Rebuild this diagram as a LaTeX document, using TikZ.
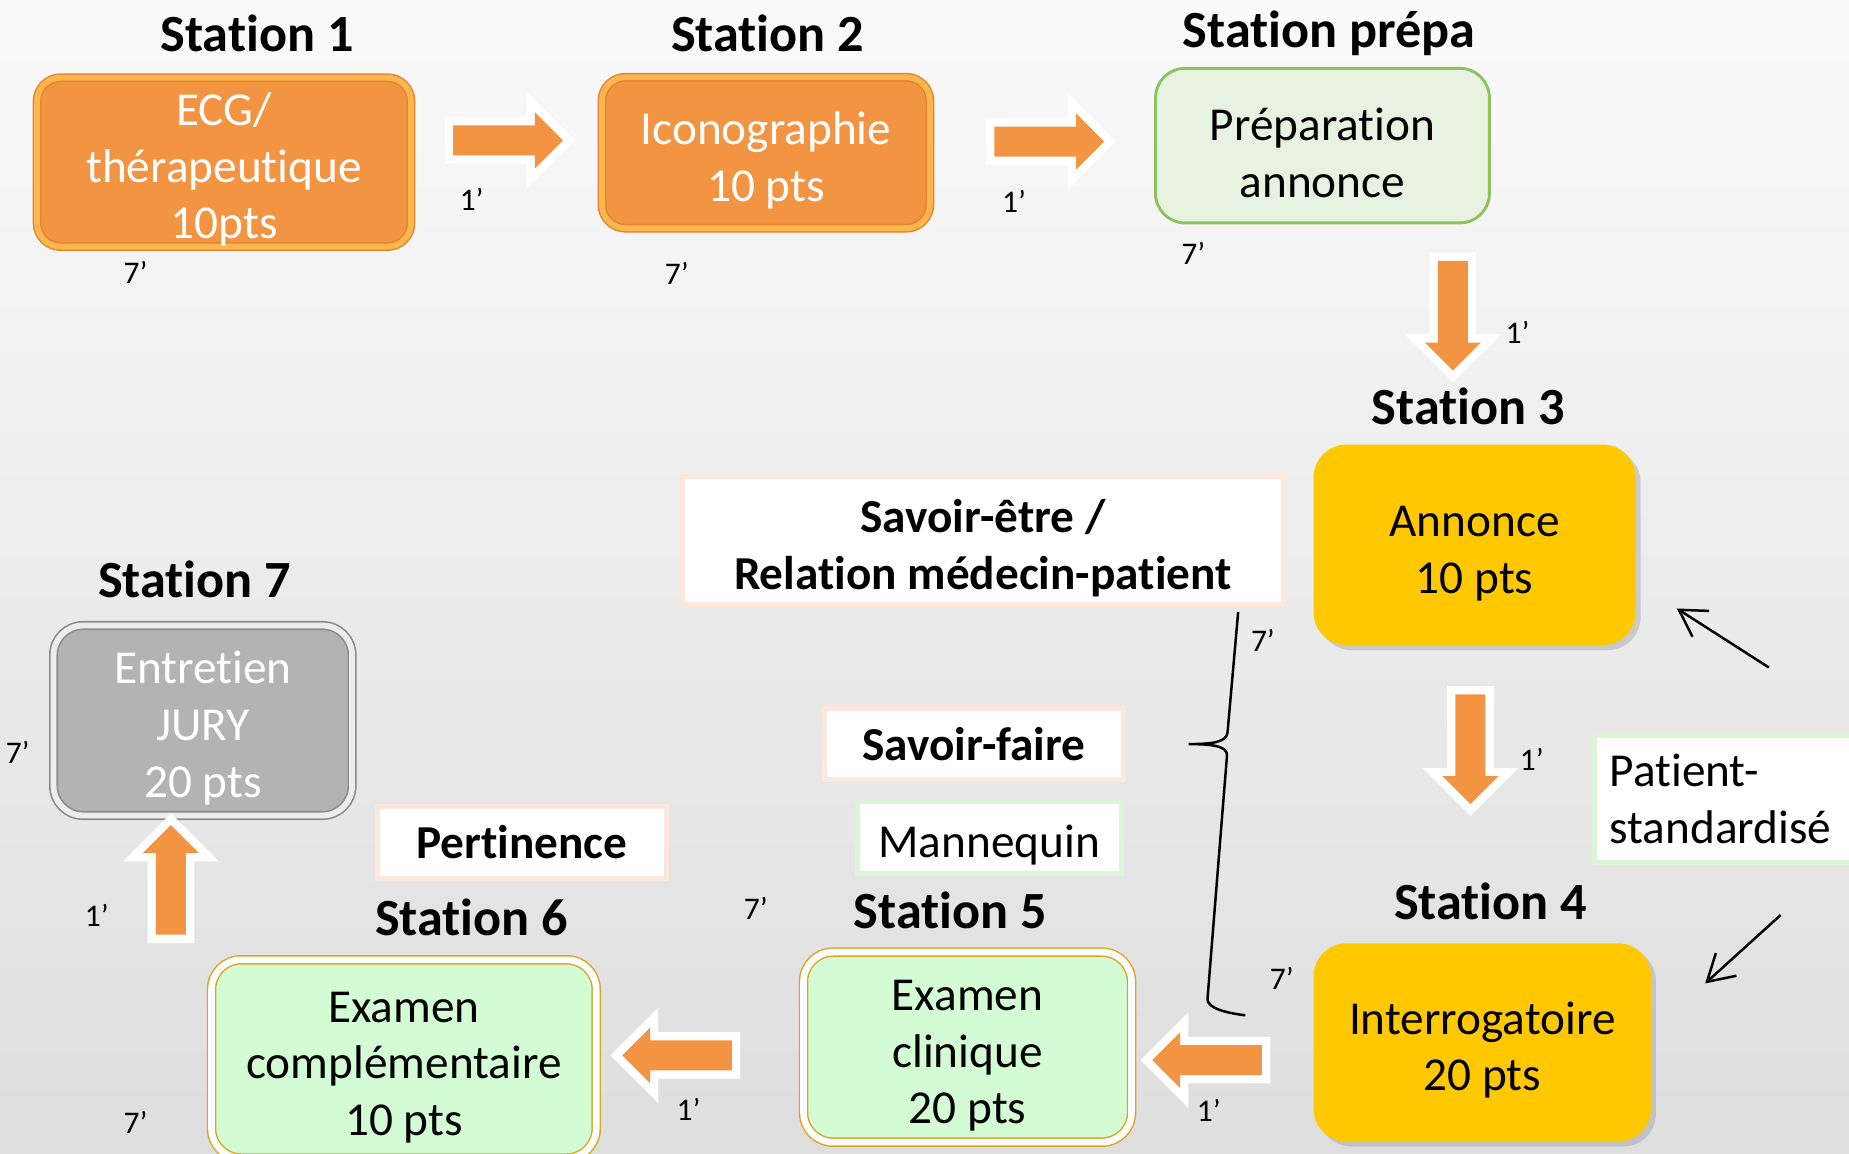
\documentclass[tikz,border=0pt]{standalone}
\usepackage{fontspec}
\setmainfont{Carlito}[Ligatures=NoCommon]
\usetikzlibrary{shapes.arrows,shadows,arrows.meta}

\definecolor{orangefill}{HTML}{F29441}
\definecolor{orangering}{HTML}{FFB64E}
\definecolor{orangeedge}{HTML}{E0852C}
\definecolor{goldfill}{HTML}{FFC800}
\definecolor{prepafill}{HTML}{E8F2E0}
\definecolor{prepaedge}{HTML}{8CC35E}
\definecolor{mintfill}{HTML}{D3FCD5}
\definecolor{mintedge}{HTML}{D9A521}
\definecolor{grayfill}{HTML}{B3B3B3}
\definecolor{grayedge}{HTML}{8C8C8C}
\definecolor{grayring}{HTML}{EDEDED}
\definecolor{peachedge}{HTML}{FDE9DB}
\definecolor{greenedge}{HTML}{D9F7D6}
\definecolor{bgtop}{HTML}{FAFAFA}
\definecolor{bgbottom}{HTML}{DEDEDE}

\newcommand{\boxfont}{\fontsize{11.4}{13.7}\selectfont}
\newcommand{\titlefont}{\fontsize{12.6}{15}\selectfont\bfseries}
\newcommand{\minfont}{\fontsize{7.6}{9}\selectfont}
\newcommand{\lift}{\rule{0pt}{11.5pt}}

\tikzset{
  lowertext/.style={execute at begin node={\lift}},
  station/.style={rounded corners=0.2cm, align=center, font=\boxfont, inner sep=0pt},
  orangebox/.style={station, fill=orangefill, draw=orangeedge, double=orangering,
    double distance=1.4pt, line width=0.35pt, text=white},
  goldbox/.style={station, rounded corners=0.28cm, fill=goldfill,
    drop shadow={shadow xshift=1.2pt, shadow yshift=-1.2pt, opacity=0.3}},
  mintbox/.style={station, rounded corners=0.25cm, fill=mintfill, draw=mintedge,
    double=white, double distance=1.6pt, line width=0.35pt},
  graybox/.style={station, rounded corners=0.25cm, fill=grayfill, draw=grayedge,
    double=grayring, double distance=1.4pt, line width=0.4pt, text=white},
  prepabox/.style={station, rounded corners=0.25cm, fill=prepafill, draw=prepaedge, line width=0.7pt},
  skillbox/.style={fill=white, draw=peachedge, line width=1.2pt, align=center,
    font=\boxfont\bfseries, inner sep=0pt},
  toolbox/.style={fill=white, draw=greenedge, line width=1.2pt, font=\boxfont, inner sep=0pt},
  title/.style={font=\titlefont},
  minutes/.style={font=\minfont, inner sep=0pt},
  flow/.style={single arrow, single arrow head extend=0.11cm, inner sep=0.12cm,
    minimum height=0.93cm, fill=orangefill, preaction={draw=white, line width=4pt}},
  hint/.style={-{Straight Barb[length=2.2mm,width=2.6mm]}, line width=0.6pt},
  brace/.style={line width=0.6pt},
}

\begin{document}
\begin{tikzpicture}[x=0.01cm,y=-0.01cm]
\useasboundingbox (0,0) rectangle (1568,978);
\clip (0,0) rectangle (1568,978);
\fill[top color=bgtop, bottom color=bgbottom] (0,0) rectangle (1568,978);

\node[title] (t1) at (218,28) {Station 1};
\node[title] (t2) at (651,28) {Station 2};
\node[title] (tp) at (1127,28) {Station prépa};
\node[title] (t3) at (1245,345) {Station 3};
\node[title] (t7) at (165,491) {Station 7};
\node[title] (t6) at (400,778) {Station 6};
\node[title] (t5) at (806,772) {Station 5};
\node[title] (t4) at (1264,764) {Station 4};

\node[orangebox, minimum width=3.17cm, minimum height=1.40cm] (s1) at (190,137.5) {\lift ECG/\\thérapeutique\\10pts};
\node[orangebox, minimum width=2.78cm, minimum height=1.28cm] (s2) at (649.5,129.5) {\lift Iconographie\\10 pts};
\node[prepabox, minimum width=2.83cm, minimum height=1.31cm] (sp) at (1121.5,123.5) {\lift Préparation\\annonce};
\node[goldbox, minimum width=2.73cm, minimum height=1.70cm] (s3) at (1250.5,462) {\lift Annonce\\10 pts};
\node[goldbox, minimum width=2.86cm, minimum height=1.68cm] (s4) at (1257,884) {\lift Interrogatoire\\20 pts};
\node[mintbox, minimum width=2.78cm, minimum height=1.61cm] (s5) at (820.5,888) {\lift Examen\\clinique\\20 pts};
\node[mintbox, minimum width=3.26cm, minimum height=1.68cm] (s6) at (342.5,898) {\lift Examen\\complémentaire\\10 pts};
\node[graybox, minimum width=2.53cm, minimum height=1.61cm] (s7) at (172,611) {\lift Entretien\\JURY\\20 pts};

\node[skillbox, minimum width=5.09cm, minimum height=1.09cm] (etre) at (833.5,458.5) {\lift Savoir-être /\\Relation médecin-patient};
\node[skillbox, minimum width=2.54cm, minimum height=0.60cm] (faire) at (826,631) {Savoir-faire};
\node[skillbox, minimum width=2.45cm, minimum height=0.61cm] (pert) at (442.5,714.5) {Pertinence};
\node[toolbox, lowertext, minimum width=2.24cm, minimum height=0.61cm] (mann) at (839,710.5) {Mannequin};
\node[toolbox, anchor=west, align=left, text width=2.1cm, inner xsep=0.13cm, minimum height=1.07cm] (pat) at (1350,677.5) {Patient-\\standardisé};

\node[flow] (a1) at (424.5,119) {};
\node[flow] (a2) at (883.5,120) {};
\node[flow, shape border rotate=270] (a3) at (1232,261.3) {};
\node[flow, shape border rotate=270] (a4) at (1247,629) {};
\node[flow, shape border rotate=180] (a5) at (1030,899) {};
\node[flow, shape border rotate=180] (a6) at (580.5,895) {};
\node[flow, shape border rotate=90] (a7) at (145,752.5) {};

\node[minutes] (m1) at (115,231) {7’};
\node[minutes] (m2) at (400,169) {1’};
\node[minutes] (m3) at (574,232) {7’};
\node[minutes] (m4) at (860,171) {1’};
\node[minutes] (m5) at (1012,215) {7’};
\node[minutes] (m6) at (1287,282) {1’};
\node[minutes] (m7) at (1071,543) {7’};
\node[minutes] (m8) at (1299,644) {1’};
\node[minutes] (m9) at (1087,830) {7’};
\node[minutes] (m10) at (1025,942) {1’};
\node[minutes] (m11) at (641,770) {7’};
\node[minutes] (m12) at (584,941) {1’};
\node[minutes] (m13) at (115,952) {7’};
\node[minutes] (m14) at (82,776) {1’};
\node[minutes] (m15) at (15,638) {7’};

\coordinate (h1) at (1500,566);
\coordinate (h1tip) at (1422,516);
\coordinate (h2) at (1510,776);
\coordinate (h2tip) at (1446,834);
\draw[hint] (h1) -- (h1tip);
\draw[hint] (h2) -- (h2tip);

\draw[brace] (1050,519) -- (1041,621) .. controls (1040,629) and (1030,631) .. (1008,631)
  .. controls (1030,631) and (1041,633) .. (1040.5,641) -- (1024,847)
  .. controls (1023.5,855) and (1040,859) .. (1056,861);
\end{tikzpicture}
\end{document}
